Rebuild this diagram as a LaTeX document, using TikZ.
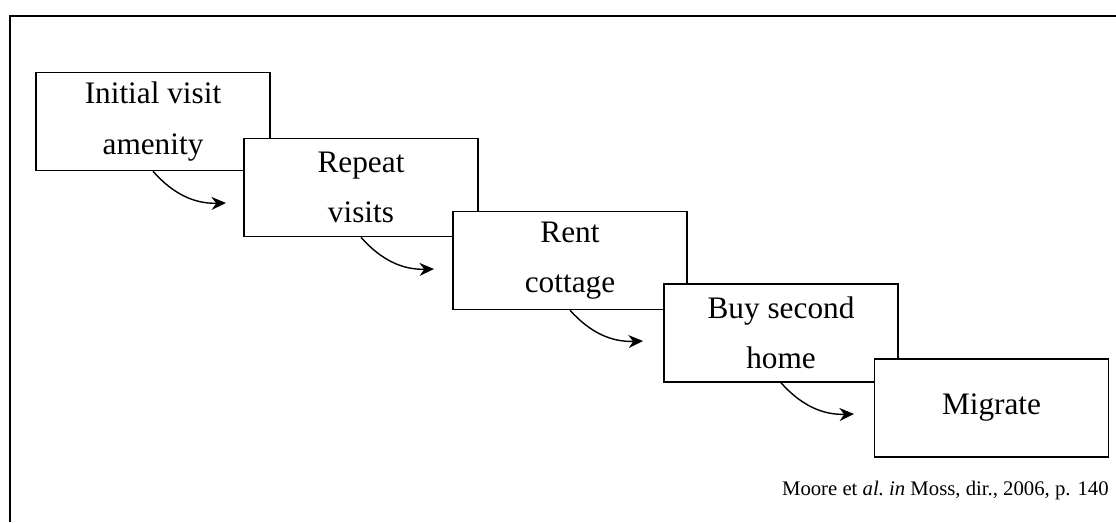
\documentclass[tikz,border=0pt]{standalone}
\usepackage{amsmath}
\usepackage{fontspec}
\setmainfont{Liberation Serif}
\usetikzlibrary{arrows.meta}

\begin{document}
\begin{tikzpicture}[
    stage/.style={draw, rectangle, fill=white, line width=0.9pt, minimum height=1.96cm, minimum width=4.68cm, align=center, font=\fontsize{17.8}{28.5}\selectfont},
    move/.style={-{Stealth[length=2.9mm, width=2.6mm]}, line width=0.8pt, bend right=25}]
  \useasboundingbox (0,0) rectangle (22.32,-10.44);
  % Frame
  \coordinate (fbottom) at (0.2,-10.44);
  \coordinate (fcorner) at (0.2,-0.32);
  \coordinate (fright) at (22.32,-0.32);
  \draw[line width=1.1pt] (fbottom) -- (fcorner) -- (fright);
  % Stages
  \node[stage] (visit) at (3.06,-2.43) {Initial visit\\amenity};
  \node[stage] (repeat) at (7.22,-3.75) {Repeat\\visits};
  \node[stage] (rent) at (11.40,-5.21) {Rent\\cottage};
  \node[stage] (buy) at (15.62,-6.66) {Buy second\\home};
  \node[stage] (migrate) at (19.83,-8.16) {Migrate};
  % Arrow ends
  \coordinate (tovisit) at (4.52,-4.06);
  \coordinate (torepeat) at (8.68,-5.38);
  \coordinate (torent) at (12.86,-6.82);
  \coordinate (tobuy) at (17.08,-8.28);
  % Arrows between stages
  \draw[move] (visit.south) to (tovisit);
  \draw[move] (repeat.south) to (torepeat);
  \draw[move] (rent.south) to (torent);
  \draw[move] (buy.south) to (tobuy);
  % Source
  \node[anchor=base east, inner sep=0pt, font=\fontsize{11.8}{14}\selectfont] (source) at (22.18,-9.90) {Moore et \textit{al.}\ \textit{in} Moss, dir., 2006, p. 140};
\end{tikzpicture}
\end{document}
